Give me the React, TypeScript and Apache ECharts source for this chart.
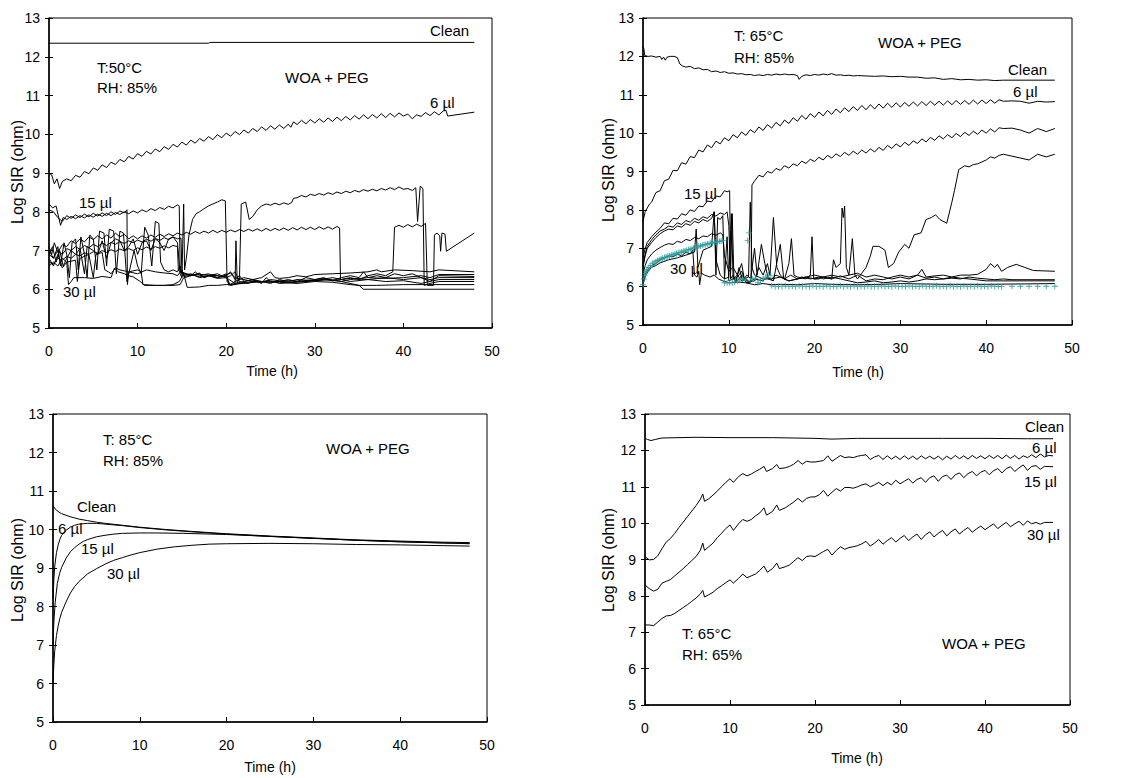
import React, { useEffect, useRef } from "react";
import * as echarts from "echarts";

const FONT = '"Liberation Sans", Arial, Helvetica, sans-serif';

// ---------- Axis ticks ----------
const X_MIN = 0, X_MAX = 50, X_STEP = 10;
const Y_MIN = 5, Y_MAX = 13, Y_STEP = 1;

// ---------- Panel 1 : T 50°C, RH 85% ----------
const P1_CLEAN = [[0, 12.35], [18, 12.35], [18.2, 12.37], [48, 12.37]];
const P1_6UL = [[0,9.0],[0.3,8.95],[0.6,8.72],[0.9,8.85],[1.2,8.6],[1.5,8.78],[2,8.85],[2.5,8.8],[3,8.94],[3.5,8.89],[4,9.04],[4.5,8.98],[5,9.13],[5.5,9.07],[6,9.21],[6.5,9.14],[7,9.28],[7.5,9.22],[8,9.35],[8.5,9.29],[9,9.43],[9.5,9.36],[10,9.5],[10.5,9.43],[11,9.56],[11.5,9.49],[12,9.62],[12.5,9.55],[13,9.68],[13.5,9.61],[14,9.74],[14.5,9.67],[15,9.8],[15.5,9.72],[16,9.85],[16.5,9.77],[17,9.89],[17.5,9.82],[18,9.94],[18.5,9.86],[19,9.99],[19.5,9.91],[20,10.03],[20.5,9.95],[21,10.07],[21.5,9.99],[22,10.11],[22.5,10.03],[23,10.15],[23.5,10.07],[24,10.19],[24.5,10.1],[25,10.22],[25.5,10.13],[26,10.24],[26.5,10.15],[27,10.26],[27.3,10.18],[27.6,10.32],[28,10.25],[28.5,10.36],[29,10.27],[29.5,10.38],[30,10.29],[30.5,10.4],[31,10.31],[31.5,10.42],[32,10.33],[32.5,10.44],[33,10.35],[33.5,10.46],[34,10.37],[34.5,10.48],[35,10.39],[35.5,10.5],[36,10.4],[36.5,10.51],[37,10.42],[37.5,10.53],[38,10.43],[38.5,10.54],[39,10.45],[39.5,10.55],[40,10.47],[40.5,10.52],[41,10.4],[41.5,10.5],[42,10.46],[42.5,10.56],[43,10.48],[43.5,10.58],[44,10.5],[44.5,10.6],[44.8,10.62],[45,10.47],[48,10.57]];
const P1_15A = [[0,8.2],[0.4,8.1],[0.8,8.15],[1.3,7.65],[1.6,7.85],[2,7.8],[2.5,7.88],[3,7.82],[3.5,7.9],[4,7.84],[4.5,7.92],[5,7.86],[5.5,7.94],[6,7.88],[6.5,7.96],[7,7.9],[7.5,7.98],[8,7.93],[8.5,8.0],[9,7.95],[9.5,8.02],[10,7.97],[10.5,8.05],[11,8.0],[11.5,8.08],[12,8.03],[12.5,8.11],[13,8.06],[13.5,8.14],[14,8.1],[14.5,8.18],[14.7,8.15],[14.8,6.5],[15.2,6.35],[16,6.4],[17,6.3],[18,6.35],[19,6.3],[20,6.4],[20.3,6.1],[21,6.2],[22,6.3],[23,6.25],[24,6.2],[25,6.15],[26,6.25],[27,6.2],[28,6.25],[30,6.22],[32,6.3],[34,6.2],[36,6.25],[38,6.3],[40,6.25],[42,6.3],[43,6.2],[44,6.35],[48,6.33]];
const P1_15B = [[0,8.05],[0.5,8.0],[1,7.85],[1.5,7.75],[2,7.9],[2.5,7.83],[3,7.92],[3.5,7.85],[4,7.94],[4.5,7.87],[5,7.96],[5.5,7.89],[6,7.97],[6.5,7.9],[7,8.0],[7.5,7.93],[8,8.02],[8.5,7.97],[8.8,8.05],[8.85,6.12],[9,6.45],[10,6.5],[10.4,6.45],[10.6,6.12],[12,6.1],[13,6.1],[14,6.1],[14.8,6.12],[15.2,6.3],[15.6,6.35],[17,6.38],[19,6.35],[20,6.32],[20.5,6.1],[21.5,6.15],[23,6.2],[25,6.18],[27,6.22],[29,6.2],[31,6.25],[33,6.2],[35,6.1],[35.5,6.0],[48,6.0]];
const P1_R1 = [[0,7.1],[0.3,6.9],[0.6,7.2],[1,6.95],[1.5,7.15],[2,7.1],[2.5,7.25],[3,7.18],[3.5,7.3],[4,7.22],[4.5,7.35],[5,7.28],[5.5,7.38],[6,7.3],[6.5,7.4],[7,7.32],[7.5,7.45],[8,7.35],[8.5,7.42],[9,7.3],[9.5,7.38],[10,7.3],[10.5,7.38],[11,7.32],[11.5,7.4],[12,7.34],[12.5,7.42],[13,7.36],[13.5,7.43],[14,7.38],[14.5,7.45],[15,7.4],[15.5,7.47],[16,7.42],[16.5,7.49],[17,7.44],[17.5,7.5],[18,7.45],[18.5,7.52],[19,7.46],[19.5,7.52],[20,7.47],[20.5,7.53],[21,7.48],[21.5,7.54],[22,7.49],[22.5,7.55],[23,7.5],[23.5,7.56],[24,7.5],[24.5,7.57],[25,7.51],[25.5,7.57],[26,7.52],[26.5,7.58],[27,7.52],[27.5,7.59],[28,7.53],[28.5,7.6],[29,7.54],[29.5,7.6],[30,7.54],[30.5,7.61],[31,7.55],[31.5,7.61],[32,7.55],[32.5,7.62],[32.8,7.58],[32.9,6.25],[34,6.3],[35,6.25],[36,6.35],[37,6.4],[38,6.35],[38.8,6.45],[39,7.6],[39.5,7.65],[40,7.6],[40.5,7.67],[41,7.61],[41.5,7.68],[42,7.62],[42.5,7.7],[42.7,6.1],[43.4,6.1],[43.5,7.4],[43.8,7.45],[44.1,7.38],[44.2,6.98],[44.35,7.45],[44.7,7.42],[44.85,6.98],[48,7.45]];
const P1_R2 = [[0,6.9],[0.5,6.8],[1,7.0],[1.5,6.9],[2,7.05],[2.5,7.0],[3,7.1],[3.5,7.03],[4,7.13],[4.5,7.07],[5,7.16],[5.5,7.1],[6,7.19],[6.5,7.13],[7,7.21],[7.5,7.16],[8,7.23],[8.5,7.18],[9,7.25],[9.5,7.2],[10,7.27],[10.5,7.22],[11,7.29],[11.5,7.24],[12,7.31],[12.5,7.26],[13,7.33],[13.5,7.28],[14,7.35],[14.5,7.3],[14.9,7.32],[15,6.45],[15.5,6.4],[16,6.35],[17,6.4],[17.5,6.3],[18.5,6.38],[19.5,6.32],[20.5,6.42],[21,6.3],[22,6.25],[23,6.2],[24,6.18],[25,6.25],[26,6.22],[27,6.18],[28,6.2],[30,6.25],[31,6.3],[32,6.22],[34,6.28],[36,6.25],[38,6.2],[40,6.22],[42,6.15],[43,6.2],[44,6.25],[48,6.25]];
const P1_R3 = [[0,6.7],[0.5,6.65],[1,6.8],[1.5,6.75],[2,6.85],[2.5,6.8],[3,6.9],[3.5,6.86],[4,6.94],[4.5,6.9],[5,6.97],[5.5,6.93],[6,7.0],[6.5,6.95],[7,7.02],[7.5,6.97],[8,7.04],[8.5,6.99],[9,7.05],[9.5,7.0],[10,7.07],[10.5,7.02],[11,7.09],[11.5,7.04],[12,7.1],[12.5,7.06],[13,7.12],[13.5,7.07],[14,7.13],[14.5,7.1],[14.6,6.5],[15,6.4],[16,6.38],[17,6.32],[18,6.35],[19,6.28],[20,6.3],[21,6.15],[22,6.2],[23,6.25],[24,6.3],[25,6.45],[25.5,6.3],[26,6.28],[27,6.3],[28,6.35],[29,6.32],[30,6.38],[32,6.4],[34,6.42],[36,6.45],[37,6.5],[37.5,6.45],[39,6.5],[41,6.48],[43,6.45],[44,6.5],[48,6.45]];
const P1_30A = [[0,6.6],[0.5,6.7],[1,6.6],[1.5,6.8],[2,6.7],[2.2,6.12],[2.5,6.2],[2.8,6.3],[4,6.3],[5,6.28],[6,6.33],[7,6.3],[7.4,6.55],[7.8,6.45],[8.5,6.4],[9,6.35],[9.5,6.32],[10.3,6.2],[10.8,6.1],[12,6.1],[13,6.1],[14,6.12],[14.7,6.2],[15.2,6.4],[15.6,6.05],[16,6.05],[17,6.06],[18,6.1],[19,6.1],[20,6.12],[22,6.15],[24,6.2],[26,6.18],[28,6.15],[30,6.2],[32,6.18],[34,6.12],[35,6.1],[37,6.1],[40,6.12],[42,6.12],[48,6.12]];
const P1_30B = [[0,7.0],[0.5,6.8],[1,7.1],[1.3,6.6],[1.7,7.2],[2,6.9],[2.3,6.3],[2.6,7.2],[3,7.3],[3.3,6.5],[3.6,7.35],[4,6.9],[4.3,6.3],[4.6,7.4],[5,7.3],[5.4,6.5],[5.7,7.5],[6.2,7.45],[6.5,6.6],[6.8,7.55],[7.3,7.5],[7.6,6.4],[8,7.5],[8.4,7.45],[8.8,6.2],[9.2,6.6],[9.6,7.0],[10,6.6],[10.4,6.4],[10.8,7.6],[11.2,7.4],[11.6,6.6],[12,7.75],[12.4,7.7],[12.6,6.7],[13,6.5],[13.5,6.45],[14,6.5],[14.5,6.45],[14.8,6.6],[15,6.4],[15.5,6.4],[16,6.35],[16.5,6.45],[17,6.35],[18,6.4],[19,6.3],[20,6.35],[20.5,6.45],[21,6.25],[21.5,6.35],[22,6.2],[23,6.25],[24,6.15],[24.5,6.3],[25,6.2],[26,6.2],[27,6.25],[28,6.2],[29,6.3],[30,6.25],[31,6.28],[32,6.22],[33,6.3],[34,6.35],[35,6.3],[35.5,6.45],[36,6.3],[37,6.35],[38,6.3],[39,6.4],[40,6.35],[41,6.4],[42,6.3],[43,6.25],[44,6.3],[48,6.3]];
const P1_30C = [[0,6.8],[0.5,6.6],[1,6.9],[1.5,6.55],[2,6.7],[3,6.75],[3.2,6.2],[3.5,6.8],[4.5,6.9],[5,6.3],[5.3,6.9],[6,6.95],[6.3,6.5],[6.7,6.45],[7,6.4],[7.5,6.55],[8,6.5],[9,6.45],[10,6.4],[10.5,6.45],[11,6.5],[12,6.45],[13,6.42],[14,6.4],[14.5,6.35],[15,6.5],[15.3,6.3],[16,6.35],[17,6.42],[17.5,6.3],[18,6.35],[19,6.4],[20,6.3],[20.5,6.35],[21,6.45],[21.5,6.2],[22.5,6.15],[23,6.22],[24,6.2],[25,6.22],[26,6.15],[28,6.18],[30,6.22],[32,6.25],[33,6.2],[34,6.25],[36,6.3],[38,6.28],[40,6.3],[42,6.35],[43,6.3],[44,6.38],[48,6.38]];
const P1_JUMP = [[0,6.9],[0.4,7.1],[0.8,6.7],[1.2,7.0],[1.6,6.6],[2,6.8],[2.5,7.0],[3,6.9],[3.5,7.05],[4,6.4],[4.3,7.1],[5,7.0],[5.5,6.9],[6,7.25],[6.5,6.8],[7,7.2],[7.5,7.3],[8,7.25],[8.5,7.0],[9,7.1],[9.5,7.3],[10,6.9],[10.5,7.2],[11,7.25],[11.5,7.0],[12,7.3],[12.5,7.2],[13,7.0],[13.5,7.3],[14,7.35],[14.5,7.2],[14.8,6.4],[15,6.3],[15.2,8.2],[15.3,6.5],[15.5,6.8],[15.8,7.4],[16.2,7.8],[16.6,7.95],[17,8.0],[17.5,8.08],[18,8.15],[18.5,8.2],[19,8.25],[19.5,8.31],[19.9,8.28],[20.1,6.2],[20.5,6.1],[21,6.15],[21.1,7.25],[21.25,6.15],[21.5,6.3],[21.7,8.2],[22.2,8.25],[22.6,7.8],[23,7.88],[23.5,8.05],[24,8.15],[24.5,8.2],[25,8.17],[25.5,8.22],[26,8.18],[26.5,8.23],[27,8.19],[27.4,8.24],[27.6,8.35],[28,8.36],[28.5,8.42],[29,8.38],[29.5,8.45],[30,8.42],[30.5,8.47],[31,8.43],[31.5,8.49],[32,8.45],[32.5,8.51],[33,8.47],[33.5,8.53],[34,8.49],[34.5,8.55],[35,8.51],[35.5,8.57],[36,8.53],[36.5,8.58],[37,8.54],[37.5,8.6],[38,8.56],[38.5,8.62],[39,8.57],[39.5,8.64],[40,8.58],[40.5,8.6],[41,8.55],[41.4,8.62],[41.6,7.75],[41.9,8.66],[42.2,8.6],[42.35,6.1],[43,6.15],[44,6.2],[48,6.2]];

// ---------- Panel 2 : T 65°C, RH 85% ----------
const P2_CLEAN = [[0,12.25],[0.1,12.2],[0.2,12.02],[0.6,12.0],[1,12.01],[1.5,11.98],[2,12.0],[2.2,11.92],[2.4,11.98],[2.6,11.9],[2.8,11.98],[3.2,12.0],[3.6,12.0],[4,11.97],[4.3,11.8],[4.6,11.75],[5,11.72],[5.5,11.74],[6,11.68],[6.5,11.7],[7,11.65],[7.5,11.66],[8,11.6],[8.5,11.62],[9,11.58],[9.5,11.6],[10,11.56],[10.5,11.57],[11,11.54],[11.5,11.55],[12,11.52],[12.5,11.53],[13,11.5],[13.5,11.52],[14,11.5],[14.5,11.53],[15,11.51],[15.5,11.54],[16,11.52],[16.5,11.54],[17,11.52],[17.5,11.53],[18,11.5],[18.2,11.4],[18.5,11.48],[19,11.52],[19.5,11.5],[20,11.53],[20.5,11.51],[21,11.54],[21.5,11.52],[22,11.55],[22.5,11.51],[23,11.52],[23.5,11.5],[24,11.51],[24.5,11.49],[25,11.5],[26,11.49],[27,11.48],[28,11.49],[29,11.47],[30,11.48],[31,11.46],[32,11.46],[33,11.43],[34,11.44],[35,11.4],[36,11.42],[37,11.39],[38,11.4],[39,11.38],[40,11.39],[41,11.37],[42,11.38],[48,11.38]];
const P2_6UL = [[0,7.7],[0.25,7.95],[0.5,8.05],[0.75,8.15],[1,8.2],[1.5,8.45],[2,8.5],[2.5,8.76],[3,8.8],[3.5,9.03],[4,9.02],[4.5,9.23],[5,9.19],[5.5,9.39],[6,9.36],[6.5,9.56],[7,9.51],[7.5,9.69],[8,9.62],[8.5,9.79],[9,9.72],[9.5,9.88],[10,9.8],[10.5,9.96],[11,9.88],[11.5,10.03],[12,9.94],[12.5,10.09],[13,10.01],[13.5,10.16],[14,10.07],[14.5,10.22],[15,10.13],[15.5,10.28],[16,10.19],[16.5,10.34],[17,10.25],[17.5,10.4],[18,10.31],[18.5,10.46],[19,10.36],[19.5,10.51],[20,10.41],[20.5,10.55],[21,10.45],[21.5,10.59],[22,10.49],[22.5,10.63],[23,10.53],[23.5,10.66],[24,10.56],[24.5,10.69],[25,10.59],[25.5,10.72],[26,10.61],[26.5,10.74],[27,10.63],[27.5,10.76],[28,10.65],[28.5,10.78],[29,10.67],[29.5,10.79],[30,10.68],[30.5,10.8],[31,10.7],[31.5,10.81],[32,10.71],[32.5,10.82],[33,10.72],[33.5,10.83],[34,10.73],[34.5,10.83],[35,10.73],[35.5,10.84],[36,10.74],[36.5,10.85],[37,10.75],[37.5,10.85],[38,10.75],[38.5,10.86],[39,10.76],[39.5,10.86],[40,10.77],[40.5,10.87],[41,10.78],[41.5,10.87],[42,10.83],[43,10.84],[44,10.83],[45,10.78],[46,10.83],[47,10.81],[48,10.82]];
const P2_15A = [[0,6.75],[0.25,7.0],[0.5,7.15],[1,7.3],[1.5,7.42],[2,7.52],[2.5,7.66],[3,7.64],[3.5,7.78],[4,7.76],[4.5,7.9],[5,7.86],[5.5,8.0],[6,7.96],[6.5,8.1],[7,8.08],[7.5,8.23],[8,8.21],[8.5,8.36],[9,8.34],[9.5,8.5],[9.8,8.47],[10.1,8.5],[10.2,6.2],[10.5,6.3],[10.8,6.1],[11.2,6.5],[11.6,6.15],[12.1,6.3],[12.6,6.2],[12.7,8.65],[13,8.75],[13.5,8.9],[14,8.86],[14.5,9.0],[15,8.96],[15.5,9.08],[16,9.03],[16.5,9.15],[17,9.09],[17.5,9.2],[18,9.15],[18.5,9.27],[19,9.21],[19.5,9.32],[20,9.26],[20.5,9.37],[21,9.3],[21.5,9.42],[22,9.35],[22.5,9.46],[23,9.39],[23.5,9.5],[24,9.42],[24.5,9.53],[25,9.45],[25.5,9.56],[26,9.48],[26.5,9.59],[27,9.51],[27.5,9.63],[28,9.55],[28.5,9.68],[29,9.6],[29.5,9.72],[30,9.64],[30.5,9.76],[31,9.68],[31.5,9.8],[32,9.73],[32.5,9.85],[33,9.77],[33.5,9.89],[34,9.81],[34.5,9.93],[35,9.85],[35.5,9.96],[36,9.88],[36.5,9.99],[37,9.91],[37.5,10.02],[38,9.94],[38.5,10.05],[39,9.97],[39.5,10.08],[40,10.0],[40.5,10.11],[41,10.03],[41.5,10.14],[42,10.12],[43,10.13],[44,10.08],[45,10.0],[46,10.12],[47,10.04],[48,10.12]];
const P2_15B = [[0,6.55],[0.25,6.85],[0.5,7.05],[1,7.22],[1.5,7.35],[2,7.45],[2.5,7.5],[3,7.58],[3.5,7.55],[4,7.66],[4.5,7.62],[5,7.72],[5.5,7.68],[6,7.78],[6.5,7.73],[7,7.82],[7.5,7.78],[8,7.88],[8.5,7.84],[9,7.92],[9.5,7.88],[9.8,7.95],[10,7.6],[10.2,6.3],[10.4,7.9],[10.6,6.2],[11,6.25],[11.5,6.4],[12,6.1],[13,6.15],[13.5,6.5],[14,6.3],[14.5,6.6],[14.8,6.3],[15.2,7.8],[15.6,6.5],[16,6.3],[16.5,6.2],[17,6.6],[17.3,7.25],[17.6,6.3],[18,6.25],[19,6.2],[19.5,6.3],[19.7,7.3],[19.9,6.2],[20.5,6.2],[21,6.25],[22,6.2],[22.2,6.7],[22.5,6.5],[23,6.6],[23.2,8.05],[23.35,7.8],[23.5,8.1],[23.7,6.5],[24,6.3],[24.4,7.25],[24.7,6.3],[25,6.2],[25.5,6.35],[26,6.5],[26.5,6.8],[26.8,7.05],[27.5,7.05],[28.2,6.95],[28.6,6.5],[29.2,6.6],[29.8,6.9],[30.5,7.1],[31,7.0],[31.6,7.35],[32.4,7.4],[33,7.75],[33.6,7.8],[34.1,7.87],[34.6,7.75],[35.4,7.65],[36,8.2],[36.3,8.5],[36.8,9.05],[37.5,9.15],[38,9.12],[38.5,9.18],[39,9.2],[39.5,9.25],[40,9.3],[40.5,9.38],[41,9.35],[41.5,9.42],[42,9.45],[43,9.4],[44,9.35],[45,9.3],[46,9.45],[47,9.38],[48,9.45]];
const P2_15C = [[0,6.5],[0.25,6.8],[0.5,7.0],[1,7.15],[1.5,7.28],[2,7.38],[2.5,7.45],[3,7.5],[3.5,7.48],[4,7.58],[4.5,7.55],[5,7.64],[5.5,7.6],[6,7.7],[6.5,7.66],[7,7.75],[7.5,7.7],[8,7.78],[8.3,7.95],[8.5,6.3],[8.7,7.8],[9,7.75],[9.3,7.85],[9.5,6.2],[9.8,7.3],[10,6.15],[10.5,6.2],[11,6.3],[11.5,6.6],[11.8,6.2],[12.3,6.25],[12.5,8.2],[12.7,6.5],[13,6.3],[13.5,6.25],[14,6.2],[15,6.2],[16,6.25],[17,6.15],[18,6.2],[19,6.25],[20,6.2],[21,6.25],[22,6.2],[23,6.28],[24,6.2],[25,6.3],[26,6.15],[27,6.2],[28,6.18],[29,6.25],[30,6.3],[31,6.25],[32,6.3],[32.5,6.45],[33,6.25],[34,6.28],[35,6.3],[36,6.25],[37,6.3],[38,6.3],[39,6.32],[40,6.45],[40.5,6.6],[41,6.5],[41.3,6.58],[41.8,6.4],[42.5,6.5],[43.5,6.58],[44.5,6.5],[45.5,6.42],[48,6.4]];
const P2_15D = [[0,6.3],[0.25,6.55],[0.5,6.7],[1,6.85],[1.5,6.95],[2,7.02],[2.5,7.08],[3,7.12],[3.5,7.1],[4,7.18],[4.5,7.15],[5,7.23],[5.5,7.2],[6,7.28],[6.5,7.25],[7,7.32],[7.5,7.3],[8,7.38],[8.5,7.34],[9,7.4],[9.3,7.35],[9.5,6.8],[10,6.4],[10.5,6.5],[11,6.3],[11.5,6.15],[12,6.2],[12.5,6.1],[13,7.0],[13.3,6.3],[13.8,7.1],[14.2,6.6],[14.6,6.2],[15.2,6.15],[16,7.1],[16.4,6.2],[17,6.15],[18,6.2],[18.5,6.25],[19.5,6.2],[20.5,6.25],[21,6.2],[22,6.25],[23,6.2],[24,6.15],[25,6.1],[26,6.12],[27,6.15],[28,6.1],[29,6.12],[30,6.15],[31,6.12],[32,6.15],[33,6.2],[34,6.18],[35,6.2],[36,6.22],[37,6.2],[38,6.25],[39,6.22],[40,6.2],[41,6.18],[42,6.2],[43,6.18],[48,6.18]];
const P2_30A = [[0,6.1],[0.3,6.35],[0.6,6.45],[1,6.55],[1.5,6.6],[2,6.7],[2.5,6.75],[3,6.8],[3.5,6.78],[4,6.85],[4.5,6.8],[5,6.9],[5.5,6.85],[5.8,6.95],[6,6.3],[6.3,6.25],[6.5,6.4],[6.6,6.05],[6.8,6.35],[7.2,6.3],[7.8,6.25],[8.3,6.3],[8.8,6.2],[9.3,6.15],[10,6.1],[11,6.12],[12,6.1],[13,6.05],[14,6.08],[15,6.05],[16,6.06],[18,6.05],[20,6.08],[22,6.06],[25,6.05],[28,6.06],[30,6.08],[35,6.06],[40,6.06],[48,6.08]];
const P2_30B = [[0,6.05],[0.3,6.3],[0.6,6.4],[1,6.5],[1.5,6.55],[2,6.62],[3,6.7],[4,6.75],[5,6.82],[6,6.9],[6.2,7.5],[6.4,6.5],[7,6.95],[7.5,7.0],[8,7.05],[8.3,7.95],[8.5,6.7],[9,6.3],[9.5,6.2],[10,6.25],[10.3,7.9],[10.5,6.2],[11,6.15],[11.5,6.3],[12,6.2],[12.2,6.1],[13,6.2],[14,6.15],[14.5,6.25],[15,6.2],[15.5,6.3],[16.5,6.2],[17.2,6.3],[18,6.2],[19,6.25],[20,6.3],[21,6.25],[22,6.3],[23,6.25],[24,6.3],[25,6.35],[26,6.25],[27,6.3],[28,6.25],[29,6.2],[30,6.25],[31,6.2],[32,6.3],[33,6.22],[34,6.25],[35,6.2],[36,6.25],[37,6.22],[38,6.2],[40,6.15],[42,6.15],[48,6.15]];
const P2_MARKERS = [[0,6.05],[0.1,6.2],[0.2,6.3],[0.3,6.35],[0.4,6.4],[0.5,6.45],[0.7,6.5],[0.9,6.55],[1.1,6.6],[1.3,6.62],[1.5,6.65],[1.7,6.68],[1.9,6.7],[2.1,6.72],[2.3,6.74],[2.5,6.76],[2.7,6.77],[2.9,6.79],[3.1,6.8],[3.3,6.82],[3.5,6.83],[3.7,6.85],[3.9,6.86],[4.1,6.88],[4.3,6.89],[4.5,6.9],[4.7,6.92],[4.9,6.93],[5.1,6.95],[5.3,6.96],[5.5,6.97],[5.7,6.99],[5.9,7.0],[6.1,7.02],[6.3,7.03],[6.5,7.05],[6.7,7.06],[6.9,7.08],[7.1,7.09],[7.3,7.1],[7.5,7.11],[7.7,7.12],[7.9,7.13],[8.1,7.14],[8.3,7.15],[8.5,7.16],[8.7,7.17],[8.9,7.18],[9.1,7.19],[9.3,7.2],[9.5,6.1],[9.8,6.1],[10.1,6.1],[10.4,6.1],[10.7,6.12],[11,6.15],[11.3,6.18],[11.6,6.2],[11.9,6.18],[12.2,7.2],[12.35,7.4],[12.5,6.15],[12.8,6.2],[13.1,6.22],[13.4,6.1],[13.7,6.15],[14,6.2],[14.3,6.25],[14.6,6.3],[14.9,6.28],[15,6.02],[15.4,6.0],[15.8,6.01],[16.2,6.0],[16.6,6.02],[17,6.0],[17.4,6.01],[17.8,6.0],[18.2,6.02],[18.6,6.0],[19,6.01],[19.4,6.0],[19.8,6.02],[20.2,6.0],[20.6,6.01],[21,6.0],[21.4,6.02],[21.8,6.0],[22.2,6.01],[22.6,6.0],[23,6.02],[23.4,6.0],[23.8,6.01],[24.2,6.0],[24.6,6.02],[25,6.0],[25.4,6.01],[25.8,6.0],[26.2,6.02],[26.6,6.0],[27,6.01],[27.4,6.0],[27.8,6.02],[28.2,6.0],[28.6,6.01],[29,6.0],[29.4,6.02],[29.8,6.0],[30.2,6.01],[30.6,6.0],[31,6.02],[31.4,6.0],[31.8,6.01],[32.2,6.0],[32.6,6.02],[33,6.0],[33.4,6.01],[33.8,6.0],[34.2,6.02],[34.6,6.0],[35,6.01],[35.4,6.0],[35.8,6.02],[36.2,6.0],[36.6,6.01],[37,6.0],[37.4,6.02],[37.8,6.0],[38.2,6.01],[38.6,6.0],[39,6.02],[39.4,6.0],[39.8,6.01],[40.2,6.0],[40.6,6.02],[41,6.0],[41.4,6.01],[41.8,6.0],[43,6.01],[44,6.01],[45,6.01],[46,6.01],[47,6.01],[48,6.01]];

// ---------- Panel 3 : T 85°C, RH 85% ----------
const P3_CLEAN = [[0,10.62],[0.3,10.52],[0.7,10.45],[1,10.41],[1.5,10.37],[2,10.33],[3,10.27],[4,10.23],[5,10.19],[6,10.16],[8,10.11],[10,10.06],[13,10.0],[16,9.95],[20,9.89],[25,9.83],[30,9.78],[35,9.73],[40,9.7],[45,9.67],[48,9.66]];
const P3_6UL = [[0,8.2],[0.1,8.7],[0.2,9.05],[0.4,9.4],[0.6,9.6],[0.8,9.75],[1,9.85],[1.5,9.98],[2,10.06],[2.5,10.11],[3,10.14],[4,10.16],[5,10.16],[6,10.14],[8,10.1],[10,10.05],[13,9.99],[16,9.94],[20,9.88],[25,9.82],[30,9.77],[35,9.72],[40,9.68],[45,9.65],[48,9.64]];
const P3_15UL = [[0,7.0],[0.1,7.6],[0.25,8.1],[0.5,8.6],[0.75,8.85],[1,9.02],[1.5,9.25],[2,9.42],[2.5,9.53],[3,9.62],[3.5,9.69],[4,9.74],[5,9.81],[6,9.85],[7,9.88],[8,9.9],[10,9.91],[12,9.91],[15,9.9],[20,9.87],[25,9.82],[30,9.77],[35,9.72],[40,9.68],[45,9.65],[48,9.63]];
const P3_30UL = [[0,6.0],[0.1,6.5],[0.2,6.85],[0.4,7.25],[0.6,7.5],[0.8,7.7],[1,7.85],[1.5,8.12],[2,8.35],[2.5,8.52],[3,8.65],[4,8.85],[5,8.98],[6,9.1],[7,9.2],[8,9.27],[9,9.34],[10,9.4],[12,9.49],[14,9.55],[16,9.59],[18,9.62],[20,9.63],[25,9.64],[30,9.63],[35,9.61],[40,9.6],[45,9.58],[48,9.57]];

// ---------- Panel 4 : T 65°C, RH 65% ----------
const P4_CLEAN = [[0,12.33],[0.3,12.3],[0.7,12.27],[1.2,12.3],[2,12.34],[4,12.35],[6,12.36],[10,12.35],[15,12.35],[20,12.33],[22,12.31],[25,12.33],[30,12.33],[35,12.33],[40,12.33],[45,12.32],[48,12.32]];
const P4_6UL = [[0,9.08],[0.5,8.99],[1,9.0],[1.5,9.1],[2,9.3],[2.5,9.48],[3,9.58],[3.5,9.72],[4,9.88],[4.5,10.03],[5,10.18],[5.5,10.33],[6,10.48],[6.5,10.65],[6.8,10.8],[7,10.6],[7.5,10.67],[8,10.77],[8.5,10.88],[9,11.0],[9.5,11.12],[10,11.22],[10.4,11.12],[11,11.28],[11.5,11.36],[12,11.3],[12.5,11.35],[13,11.42],[13.5,11.48],[14,11.56],[14.3,11.42],[15,11.5],[15.5,11.61],[15.8,11.5],[16.5,11.52],[17,11.56],[17.5,11.62],[18,11.72],[18.5,11.62],[19,11.7],[19.5,11.68],[20,11.68],[20.5,11.7],[21,11.72],[21.5,11.85],[22,11.7],[22.5,11.78],[23,11.86],[23.5,11.8],[24,11.82],[24.5,11.8],[25,11.84],[25.5,11.86],[26,11.88],[26.5,11.75],[27,11.82],[27.5,11.86],[28,11.75],[28.5,11.85],[29,11.76],[29.5,11.84],[30,11.75],[30.5,11.85],[31,11.76],[31.5,11.84],[32,11.75],[32.5,11.85],[33,11.77],[33.5,11.84],[34,11.76],[34.5,11.84],[35,11.74],[35.5,11.84],[36,11.76],[36.5,11.86],[37,11.77],[37.5,11.85],[38,11.76],[38.5,11.86],[39,11.78],[39.5,11.85],[40,11.77],[40.5,11.86],[41,11.78],[41.5,11.86],[42,11.77],[42.5,11.87],[43,11.78],[43.5,11.86],[44,11.76],[44.5,11.85],[45,11.8],[45.5,11.88],[46,11.8],[46.5,11.9],[47,11.82],[47.5,11.86],[48,11.85]];
const P4_15UL = [[0,8.3],[0.5,8.2],[1,8.13],[1.5,8.18],[2,8.35],[2.5,8.4],[3,8.45],[3.5,8.55],[4,8.65],[4.5,8.75],[5,8.86],[5.5,8.97],[6,9.08],[6.5,9.25],[6.8,9.45],[7,9.25],[7.5,9.35],[8,9.45],[8.5,9.6],[9,9.72],[9.5,9.85],[10,9.95],[10.4,9.8],[11,9.98],[11.5,10.1],[12,10.05],[12.5,10.1],[13,10.2],[13.5,10.28],[14,10.42],[14.3,10.22],[15,10.32],[15.5,10.5],[15.8,10.35],[16.5,10.42],[17,10.5],[17.5,10.58],[18,10.68],[18.5,10.58],[19,10.68],[19.5,10.72],[20,10.72],[20.5,10.78],[21,10.9],[21.5,10.74],[22,10.85],[22.5,10.95],[23,10.88],[23.5,10.98],[24,10.98],[24.5,10.96],[25,11.0],[25.5,11.05],[26,11.08],[26.5,11.0],[27,11.05],[27.5,11.12],[28,11.03],[28.5,11.12],[29,11.05],[29.5,11.18],[30,11.08],[30.5,11.15],[31,11.22],[31.5,11.1],[32,11.2],[32.5,11.25],[33,11.12],[33.5,11.25],[34,11.3],[34.5,11.15],[35,11.28],[35.5,11.32],[36,11.2],[36.5,11.33],[37,11.38],[37.5,11.25],[38,11.36],[38.5,11.42],[39,11.3],[39.5,11.4],[40,11.45],[40.5,11.33],[41,11.44],[41.5,11.5],[42,11.38],[42.5,11.5],[43,11.55],[43.5,11.42],[44,11.52],[44.5,11.6],[45,11.45],[45.5,11.56],[46,11.58],[46.5,11.48],[47,11.56],[48,11.55]];
const P4_30UL = [[0,7.2],[0.5,7.2],[1,7.18],[1.5,7.28],[2,7.38],[2.5,7.45],[3,7.46],[3.5,7.52],[4,7.6],[4.5,7.68],[5,7.76],[5.5,7.85],[6,7.94],[6.5,8.05],[6.8,8.15],[7,7.97],[7.5,8.03],[8,8.1],[8.5,8.2],[9,8.28],[9.5,8.36],[10,8.44],[10.4,8.35],[11,8.48],[11.5,8.6],[12,8.5],[12.5,8.55],[13,8.6],[13.5,8.7],[14,8.82],[14.4,8.65],[15,8.75],[15.5,8.9],[15.8,8.75],[16.5,8.8],[17,8.85],[17.5,8.95],[18,9.05],[18.5,8.97],[19,9.08],[19.5,9.1],[20,9.08],[20.5,9.15],[21,9.22],[21.5,9.28],[22,9.12],[22.5,9.25],[23,9.35],[23.5,9.28],[24,9.33],[24.5,9.35],[25,9.38],[25.5,9.43],[26,9.5],[26.5,9.37],[27,9.45],[27.5,9.55],[28,9.42],[28.5,9.52],[29,9.6],[29.5,9.48],[30,9.58],[30.5,9.66],[31,9.52],[31.5,9.62],[32,9.7],[32.5,9.55],[33,9.68],[33.5,9.76],[34,9.62],[34.5,9.72],[35,9.8],[35.5,9.65],[36,9.76],[36.5,9.84],[37,9.7],[37.5,9.8],[38,9.88],[38.5,9.75],[39,9.84],[39.5,9.92],[40,9.82],[40.5,9.9],[41,9.98],[41.5,9.85],[42,9.94],[42.5,10.02],[43,9.9],[43.5,9.98],[44,10.05],[44.5,9.94],[45,10.06],[45.5,9.98],[46,10.02],[46.5,9.97],[47,10.02],[48,10.02]];

const PANEL_LINES = [
  [P1_CLEAN, P1_6UL, P1_15A, P1_15B, P1_R1, P1_R2, P1_R3, P1_30A, P1_30B, P1_30C, P1_JUMP],
  [P2_CLEAN, P2_6UL, P2_15A, P2_15B, P2_15C, P2_15D, P2_30A, P2_30B],
  [P3_CLEAN, P3_6UL, P3_15UL, P3_30UL],
  [P4_CLEAN, P4_6UL, P4_15UL, P4_30UL],
];

// ---------- Texts ----------
const Y_TITLE = "Log SIR (ohm)";
const X_TITLE = "Time (h)";
const PANEL_TEXTS = [
  ["Clean", "T:50°C", "RH: 85%", "WOA + PEG", "6 µl", "15 µl", "30 µl"],
  ["T: 65°C", "RH: 85%", "WOA + PEG", "Clean", "6 µl", "15 µl", "30 µl"],
  ["T: 85°C", "RH: 85%", "WOA + PEG", "Clean", "6 µl", "15 µl", "30 µl"],
  ["Clean", "6 µl", "15 µl", "30 µl", "T: 65°C", "RH: 65%", "WOA + PEG"],
];

// ---------- Layout (pixels) ----------
const GRIDS = [
  { left: 49, top: 18, width: 443, height: 310 },
  { left: 643, top: 18, width: 429, height: 307 },
  { left: 53, top: 414, width: 434, height: 308 },
  { left: 645, top: 414, width: 425, height: 291 },
];
const TEXT_POS = [
  [[430, 30], [97, 67], [97, 87], [285, 77], [430, 102], [79, 202], [63, 291]],
  [[734, 35], [734, 57], [878, 42], [1008, 69], [1013, 91], [684, 193], [670, 268]],
  [[103, 439], [103, 460], [326, 448], [77, 506], [58, 528], [81, 548], [107, 573]],
  [[1025, 426], [1032, 447], [1024, 481], [1027, 534], [682, 633], [682, 654], [942, 643]],
];
const Y_TITLE_POS = [[17, 172], [608, 170], [17, 570], [608, 560]];
const X_TITLE_POS = [[272, 371], [858, 372], [270, 767], [857, 758]];

const PLUS = "path://M3.4,0H4.6V3.4H8V4.6H4.6V8H3.4V4.6H0V3.4H3.4Z";
const TEAL = "#2a9b9b";

export default function App() {
  const ref = useRef<HTMLDivElement>(null);
  useEffect(() => {
    if (!ref.current) return;
    const chart = echarts.init(ref.current, undefined, { renderer: "svg" });

    const grid = GRIDS.map((g) => ({
      ...g,
      show: true,
      borderColor: "#000",
      borderWidth: 1,
      backgroundColor: "transparent",
    }));

    const xAxis = GRIDS.map((_, i) => ({
      type: "value",
      gridIndex: i,
      min: X_MIN,
      max: X_MAX,
      interval: X_STEP,
      axisLine: { show: true, onZero: false, lineStyle: { color: "#000", width: 1.5 } },
      axisTick: { show: true, inside: true, length: 5, lineStyle: { color: "#000", width: 1 } },
      axisLabel: { color: "#000", fontSize: 14, fontFamily: FONT, margin: 16 },
      splitLine: { show: false },
    }));

    const yAxis: any[] = [];
    GRIDS.forEach((_, i) => {
      yAxis.push({
        type: "value",
        gridIndex: i,
        min: Y_MIN,
        max: Y_MAX,
        interval: Y_STEP,
        position: "left",
        axisLine: { show: true, onZero: false, lineStyle: { color: "#000", width: 1.5 } },
        axisTick: { show: true, inside: false, length: 4, lineStyle: { color: "#000", width: 1 } },
        axisLabel: { color: "#000", fontSize: 14, fontFamily: FONT, margin: 9 },
        splitLine: { show: false },
      });
      yAxis.push({
        type: "value",
        gridIndex: i,
        min: Y_MIN,
        max: Y_MAX,
        interval: Y_STEP,
        position: "left",
        axisLine: { show: false, onZero: false },
        axisTick: { show: true, inside: true, length: 4, lineStyle: { color: "#000", width: 1 } },
        axisLabel: { show: false },
        splitLine: { show: false },
      });
    });

    const series: any[] = [];
    PANEL_LINES.forEach((lines, i) => {
      lines.forEach((data) => {
        series.push({
          type: "line",
          xAxisIndex: i,
          yAxisIndex: 2 * i,
          data,
          symbol: "none",
          showSymbol: false,
          silent: true,
          z: 2,
          lineStyle: { color: "#000", width: 1 },
        });
      });
    });
    series.push({
      type: "scatter",
      xAxisIndex: 1,
      yAxisIndex: 2,
      data: P2_MARKERS,
      symbol: PLUS,
      symbolSize: 6,
      silent: true,
      z: 3,
      itemStyle: { color: TEAL, opacity: 0.9 },
    });

    const graphic: any[] = [];
    PANEL_TEXTS.forEach((texts, i) => {
      texts.forEach((t, j) => {
        const [x, y] = TEXT_POS[i][j];
        graphic.push({
          type: "text",
          x,
          y,
          silent: true,
          style: { text: t, fill: "#000", font: `15px ${FONT}`, align: "left", verticalAlign: "middle" },
        });
      });
      graphic.push({
        type: "text",
        x: Y_TITLE_POS[i][0],
        y: Y_TITLE_POS[i][1],
        rotation: Math.PI / 2,
        silent: true,
        style: { text: Y_TITLE, fill: "#000", font: `16px ${FONT}`, align: "center", verticalAlign: "middle" },
      });
      graphic.push({
        type: "text",
        x: X_TITLE_POS[i][0],
        y: X_TITLE_POS[i][1],
        silent: true,
        style: { text: X_TITLE, fill: "#000", font: `14px ${FONT}`, align: "center", verticalAlign: "middle" },
      });
    });

    chart.setOption({
      animation: false,
      backgroundColor: "#fff",
      textStyle: { fontFamily: FONT },
      grid,
      xAxis,
      yAxis,
      series,
      graphic,
    });
    return () => chart.dispose();
  }, []);

  return (
    <div
      ref={ref}
      style={{ position: "absolute", left: 0, top: 0, width: 1121, height: 778, background: "#fff" }}
    />
  );
}
